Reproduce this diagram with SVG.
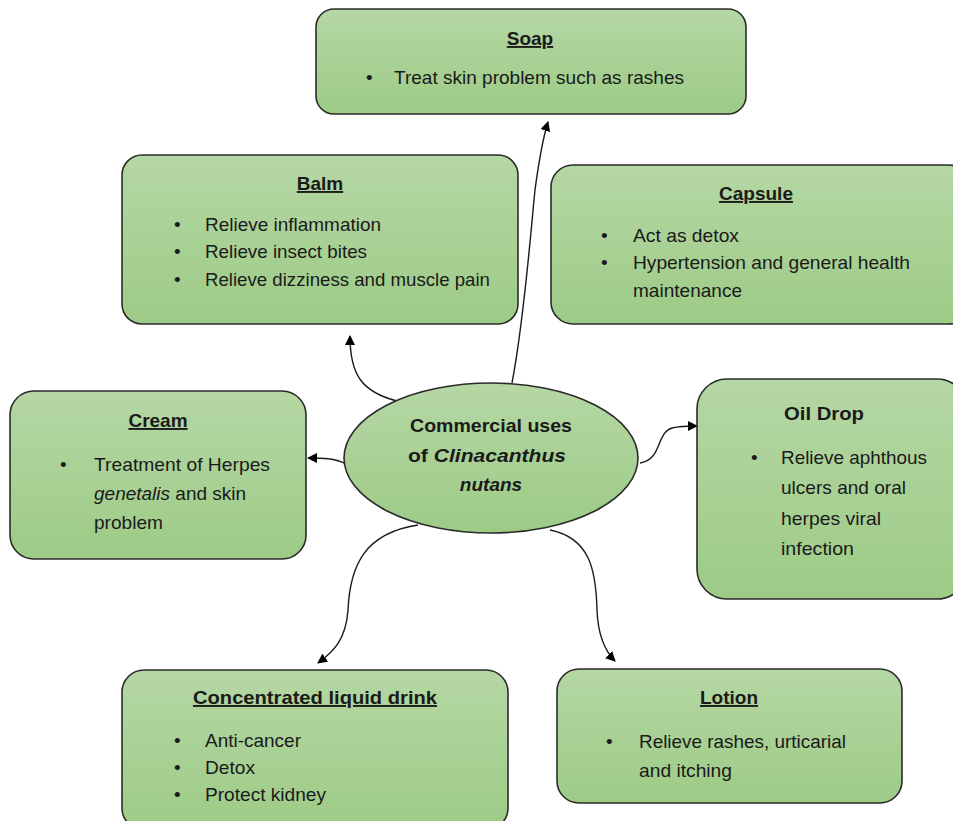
<svg xmlns="http://www.w3.org/2000/svg" width="953" height="821" viewBox="0 0 953 821">
<defs>
<linearGradient id="g" x1="0" y1="0" x2="0" y2="1">
<stop offset="0" stop-color="#b5d7a4"/>
<stop offset="1" stop-color="#9dcb86"/>
</linearGradient>
<marker id="arr" viewBox="0 0 10 10" refX="9" refY="5" markerWidth="10" markerHeight="10" markerUnits="userSpaceOnUse" orient="auto">
<path d="M0,0 L10,5 L0,10 z" fill="#000"/>
</marker>
</defs>
<style>
.box{fill:url(#g);stroke:#2b2b2b;stroke-width:1.6}
.t{font-family:"Liberation Sans",Arial,sans-serif;font-size:19px;fill:#1a1a1a}
.h{font-weight:bold;text-decoration:underline;text-anchor:middle}
.c{font-weight:bold;text-anchor:middle}
.con{fill:none;stroke:#1a1a1a;stroke-width:1.4;marker-end:url(#arr)}
</style>
<rect width="953" height="821" fill="#fff"/>
<g id="connectors">
<path class="con" d="M512,383 C524,320 530,240 535,190 C539,160 543,138 548,122"/>
<path class="con" d="M397,401 C362,392 350,375 350,336"/>
<path class="con" d="M346,464 C335,458 322,458 308,458"/>
<path class="con" d="M640,463 C662,460 656,433 672,428 C680,426 688,426 697,426"/>
<path class="con" d="M418,525 C365,533 350,565 348,610 C346,640 333,652 318,663"/>
<path class="con" d="M550,530 C590,538 596,570 597,610 C598,637 606,652 615,661"/>
</g>
<g id="soap">
<rect class="box" x="316" y="9" width="430" height="105" rx="18"/>
<text class="t h" x="530" y="45">Soap</text>
<text class="t" x="366" y="84">•</text>
<text class="t" x="394" y="84" textLength="290" lengthAdjust="spacingAndGlyphs">Treat skin problem such as rashes</text>
</g>
<g id="balm">
<rect class="box" x="122" y="155" width="396" height="169" rx="20"/>
<text class="t h" x="320" y="190">Balm</text>
<text class="t" x="174" y="231">•</text>
<text class="t" x="205" y="231" textLength="176" lengthAdjust="spacingAndGlyphs">Relieve inflammation</text>
<text class="t" x="174" y="258">•</text>
<text class="t" x="205" y="258" textLength="162" lengthAdjust="spacingAndGlyphs">Relieve insect bites</text>
<text class="t" x="174" y="286">•</text>
<text class="t" x="205" y="286" textLength="285" lengthAdjust="spacingAndGlyphs">Relieve dizziness and muscle pain</text>
</g>
<g id="capsule">
<rect class="box" x="551" y="165" width="420" height="159" rx="22"/>
<text class="t h" x="756" y="200">Capsule</text>
<text class="t" x="601" y="242">•</text>
<text class="t" x="633" y="242" textLength="106" lengthAdjust="spacingAndGlyphs">Act as detox</text>
<text class="t" x="601" y="269">•</text>
<text class="t" x="633" y="269" textLength="277" lengthAdjust="spacingAndGlyphs">Hypertension and general health</text>
<text class="t" x="633" y="297" textLength="109" lengthAdjust="spacingAndGlyphs">maintenance</text>
</g>
<g id="cream">
<rect class="box" x="10" y="391" width="296" height="168" rx="24"/>
<text class="t h" x="158" y="427">Cream</text>
<text class="t" x="60" y="471">•</text>
<text class="t" x="94" y="471" textLength="176" lengthAdjust="spacingAndGlyphs">Treatment of Herpes</text>
<text class="t" x="94" y="500"><tspan font-style="italic">genetalis</tspan> and skin</text>
<text class="t" x="94" y="529" textLength="69" lengthAdjust="spacingAndGlyphs">problem</text>
</g>
<g id="center">
<ellipse class="box" cx="491" cy="458" rx="147" ry="75"/>
<text class="t c" x="491" y="432" textLength="162" lengthAdjust="spacingAndGlyphs">Commercial uses</text>
<text class="t c" x="487" y="462" textLength="158" lengthAdjust="spacingAndGlyphs">of <tspan font-style="italic">Clinacanthus</tspan></text>
<text class="t c" x="491" y="491" font-style="italic">nutans</text>
</g>
<g id="oildrop">
<rect class="box" x="697" y="379" width="270" height="220" rx="30"/>
<text class="t c" x="824" y="420" textLength="80" lengthAdjust="spacingAndGlyphs">Oil Drop</text>
<text class="t" x="751" y="464">•</text>
<text class="t" x="781" y="464" textLength="146" lengthAdjust="spacingAndGlyphs">Relieve aphthous</text>
<text class="t" x="781" y="494" textLength="125" lengthAdjust="spacingAndGlyphs">ulcers and oral</text>
<text class="t" x="781" y="525" textLength="100" lengthAdjust="spacingAndGlyphs">herpes viral</text>
<text class="t" x="781" y="555" textLength="73" lengthAdjust="spacingAndGlyphs">infection</text>
</g>
<g id="drink">
<rect class="box" x="122" y="670" width="386" height="160" rx="22"/>
<text class="t h" x="315" y="704" textLength="244" lengthAdjust="spacingAndGlyphs">Concentrated liquid drink</text>
<text class="t" x="174" y="747">•</text>
<text class="t" x="205" y="747" textLength="96" lengthAdjust="spacingAndGlyphs">Anti-cancer</text>
<text class="t" x="174" y="774">•</text>
<text class="t" x="205" y="774" textLength="50" lengthAdjust="spacingAndGlyphs">Detox</text>
<text class="t" x="174" y="801">•</text>
<text class="t" x="205" y="801" textLength="121" lengthAdjust="spacingAndGlyphs">Protect kidney</text>
</g>
<g id="lotion">
<rect class="box" x="557" y="669" width="345" height="134" rx="22"/>
<text class="t h" x="729" y="704">Lotion</text>
<text class="t" x="606" y="748">•</text>
<text class="t" x="639" y="748" textLength="207" lengthAdjust="spacingAndGlyphs">Relieve rashes, urticarial</text>
<text class="t" x="639" y="777" textLength="93" lengthAdjust="spacingAndGlyphs">and itching</text>
</g>
</svg>
